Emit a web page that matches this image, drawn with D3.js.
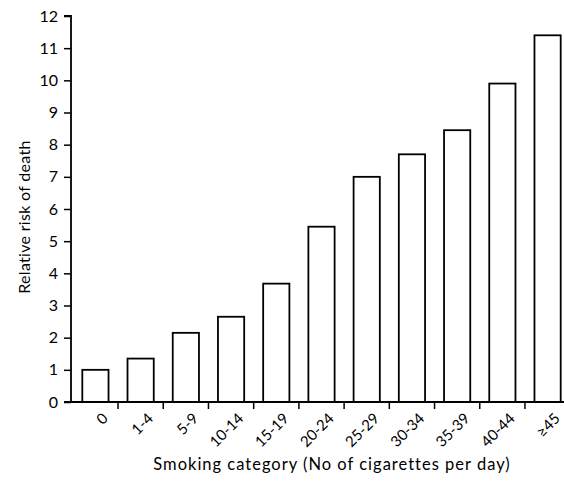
<!DOCTYPE html>
<html>
<head>
<meta charset="utf-8">
<script src="https://cdn.jsdelivr.net/npm/d3@7"></script>
<style>
  html, body { margin: 0; padding: 0; background: #fff; }
  svg { display: block; }
  text { font-family: Lato, "Open Sans", sans-serif; fill: #000; }
</style>
</head>
<body>
<svg id="chart" width="564" height="481"></svg>
<script>
const categories = ["0", "1-4", "5-9", "10-14", "15-19", "20-24", "25-29", "30-34", "35-39", "40-44", "\u226545"];
const relativeRisk = [1.0, 1.35, 2.15, 2.65, 3.68, 5.45, 7.0, 7.7, 8.45, 9.9, 11.4];
const yTicks = [0, 1, 2, 3, 4, 5, 6, 7, 8, 9, 10, 11, 12];
const xTitle = "Smoking category (No of cigarettes per day)";
const yTitle = "Relative risk of death";

const svg = d3.select("#chart");
const axisX = 71, axisY = 402, topY = 16;

const x = d3.scaleBand().domain(categories).range([axisX, 572])
  .paddingInner(0.42).paddingOuter(0.25);
const y = d3.scaleLinear().domain([0, 12]).range([axisY, topY]);

// Bars
svg.append("g").selectAll("rect").data(relativeRisk).join("rect")
  .attr("x", (d, i) => x(categories[i]))
  .attr("y", d => y(d))
  .attr("width", x.bandwidth())
  .attr("height", d => y(0) - y(d))
  .attr("fill", "#fff")
  .attr("stroke", "#000")
  .attr("stroke-width", 1.8);

// Y axis
const yAxis = svg.append("g").attr("transform", `translate(${axisX},0)`)
  .call(d3.axisLeft(y).tickValues(yTicks).tickSize(7).tickPadding(6).tickFormat(d3.format("d")));
yAxis.select(".domain").attr("stroke-width", 1.8).attr("d", `M-7,${topY}H0V${axisY}`);
yAxis.selectAll(".tick line").attr("stroke-width", 1.5);
yAxis.selectAll(".tick text").attr("font-size", 16).attr("font-family", "Lato, sans-serif");

// X axis line
svg.append("line").attr("x1", axisX - 7).attr("x2", 564).attr("y1", axisY).attr("y2", axisY)
  .attr("stroke", "#000").attr("stroke-width", 1.8);

// X ticks between bars
const step = x.step();
const boundaries = categories.slice(0, -1).map(c => x(c) + x.bandwidth() + (step - x.bandwidth()) / 2);
svg.append("g").selectAll("line").data(boundaries).join("line")
  .attr("x1", d => d).attr("x2", d => d)
  .attr("y1", axisY).attr("y2", axisY + 7)
  .attr("stroke", "#000").attr("stroke-width", 1.5);

// X tick labels rotated
svg.append("g").selectAll("text").data(categories).join("text")
  .attr("transform", d => `translate(${x(d) + x.bandwidth() / 2 + 6},${axisY + 10}) rotate(-45)`)
  .attr("text-anchor", "end")
  .attr("dy", "0.7em")
  .attr("font-size", 15)
  .text(d => d);

// Axis titles
svg.append("text").attr("x", 332).attr("y", 470).attr("text-anchor", "middle")
  .attr("font-size", 16.5).attr("letter-spacing", 1).text(xTitle);
svg.append("text").attr("transform", `translate(30,217) rotate(-90)`)
  .attr("text-anchor", "middle").attr("font-size", 16).attr("letter-spacing", 0.3).text(yTitle);
</script>
</body>
</html>
